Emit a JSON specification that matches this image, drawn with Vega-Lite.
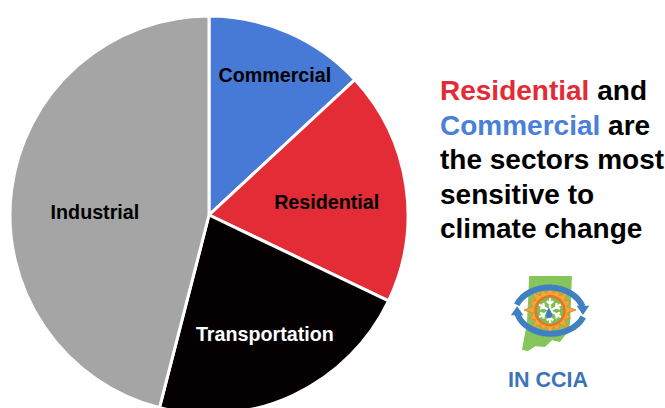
{
  "$schema": "https://vega.github.io/schema/vega-lite/v6.json",
  "background": "white",
  "padding": {"left": 0, "top": 14, "right": 0, "bottom": 0},
  "spacing": 22,
  "config": {"view": {"stroke": null}, "font": "Liberation Sans"},
  "resolve": {"scale": {"color": "independent"}},
  "datasets": {
    "sectors": [
      {"sector": "Commercial", "share": 13.1, "order": 1},
      {"sector": "Residential", "share": 19.0, "order": 2},
      {"sector": "Transportation", "share": 21.9, "order": 3},
      {"sector": "Industrial", "share": 46.0, "order": 4}
    ],
    "lines": [
      {"line": 3, "text": "the sectors most"},
      {"line": 4, "text": "sensitive to"},
      {"line": 5, "text": "climate change"}
    ],
    "tails": [
      {"line": 1, "text": "and"},
      {"line": 2, "text": "are"}
    ],
    "highlights": [
      {"line": 1, "text": "Residential", "sector": "Residential"},
      {"line": 2, "text": "Commercial", "sector": "Commercial"}
    ],
    "logo": [{"name": "IN CCIA"}]
  },
  "hconcat": [
    {
      "width": 418,
      "height": 394,
      "data": {"name": "sectors"},
      "encoding": {
        "theta": {"field": "share", "type": "quantitative", "stack": true},
        "order": {"field": "order", "type": "quantitative"}
      },
      "layer": [
        {
          "mark": {"type": "arc", "radius": 199, "stroke": "white", "strokeWidth": 3, "strokeJoin": "round"},
          "encoding": {
            "color": {
              "field": "sector",
              "type": "nominal",
              "scale": {
                "domain": ["Commercial", "Residential", "Transportation", "Industrial"],
                "range": ["#4779D6", "#E32C35", "#050102", "#A5A5A5"]
              },
              "legend": null
            }
          }
        },
        {
          "mark": {
            "type": "text",
            "font": "Liberation Sans",
            "fontWeight": "bold",
            "fontSize": 19.7,
            "align": "center",
            "baseline": "middle",
            "radius": {"expr": "datum.sector === 'Commercial' ? 152 : datum.sector === 'Residential' ? 118 : datum.sector === 'Transportation' ? 132 : 115"},
            "dx": {"expr": "datum.sector === 'Commercial' ? 5 : datum.sector === 'Residential' ? 1 : 0"},
            "dy": {"expr": "datum.sector === 'Commercial' ? 0 : datum.sector === 'Residential' ? 6 : datum.sector === 'Industrial' ? 12 : 0"}
          },
          "encoding": {
            "text": {"field": "sector"},
            "color": {
              "condition": {"test": "datum.sector === 'Transportation'", "value": "white"},
              "value": "black"
            }
          }
        }
      ]
    },
    {
      "width": 225,
      "height": 394,
      "layer": [
        {
          "data": {"name": "lines"},
          "mark": {"type": "text", "align": "left", "baseline": "alphabetic", "font": "Liberation Sans", "fontWeight": "bold", "fontSize": 28, "fill": "black"},
          "encoding": {
            "x": {"datum": 0, "type": "quantitative", "scale": {"domain": [0, 1], "nice": false, "zero": false}, "axis": null},
            "y": {"field": "line", "type": "quantitative", "scale": {"domain": [-1.37, 10.017], "nice": false, "zero": false, "reverse": true}, "axis": null},
            "text": {"field": "text"}
          }
        },
        {
          "data": {"name": "tails"},
          "mark": {"type": "text", "align": "left", "baseline": "alphabetic", "font": "Liberation Sans", "fontWeight": "bold", "fontSize": 28, "fill": "black",
            "dx": {"expr": "datum.line === 1 ? 157.2 : 168.1"}},
          "encoding": {
            "x": {"datum": 0, "type": "quantitative", "axis": null},
            "y": {"field": "line", "type": "quantitative", "axis": null},
            "text": {"field": "text"}
          }
        },
        {
          "data": {"name": "highlights"},
          "mark": {"type": "text", "align": "left", "baseline": "alphabetic", "font": "Liberation Sans", "fontWeight": "bold", "fontSize": 28},
          "encoding": {
            "x": {"datum": 0, "type": "quantitative", "axis": null},
            "y": {"field": "line", "type": "quantitative", "axis": null},
            "text": {"field": "text"},
            "color": {
              "field": "sector",
              "type": "nominal",
              "scale": {"domain": ["Residential", "Commercial"], "range": ["#E42B35", "#4A80D8"]},
              "legend": null
            }
          }
        },
        {
          "data": {"name": "logo"},
          "mark": {"type": "point", "filled": true, "fill": "#86C55C", "opacity": 1, "strokeWidth": 0, "size": 5625,
            "shape": "M-0.49,-1 L0.65,-1 L0.6,0.28 L0.49,0.55 L0.33,0.76 L0.12,0.71 L-0.07,0.89 L-0.33,0.87 L-0.52,1 L-0.68,0.97 L-0.63,0.68 L-0.55,0.28 Z"},
          "encoding": {
            "x": {"datum": 0.478, "type": "quantitative", "axis": null},
            "y": {"datum": 7.171, "type": "quantitative", "axis": null}
          }
        },
        {
          "data": {"name": "logo"},
          "mark": {"type": "point", "filled": true, "fill": "#F2A838", "stroke": "#E48A2C", "strokeWidth": 1, "opacity": 1, "size": 2700,
            "shape": "M0,-1 L0.129,-0.647 L0.325,-0.785 L0.367,-0.549 L0.707,-0.707 L0.549,-0.367 L0.785,-0.325 L0.647,-0.129 L1,0 L0.647,0.129 L0.785,0.325 L0.549,0.367 L0.707,0.707 L0.367,0.549 L0.325,0.785 L0.129,0.647 L0,1 L-0.129,0.647 L-0.325,0.785 L-0.367,0.549 L-0.707,0.707 L-0.549,0.367 L-0.785,0.325 L-0.647,0.129 L-1,0 L-0.647,-0.129 L-0.785,-0.325 L-0.549,-0.367 L-0.707,-0.707 L-0.367,-0.549 L-0.325,-0.785 L-0.129,-0.647 Z"},
          "encoding": {
            "x": {"datum": 0.489, "type": "quantitative", "axis": null},
            "y": {"datum": 7.069, "type": "quantitative", "axis": null}
          }
        },
        {
          "data": {"name": "logo"},
          "mark": {"type": "point", "filled": false, "fill": null, "stroke": "#3F80C2", "strokeWidth": 6, "opacity": 1, "size": 4900,
            "shape": "M-0.95,-0.15 A1,0.78 0 0 1 0.93,-0.1 M0.95,0.2 A1,0.78 0 0 1 -0.93,0.12"},
          "encoding": {
            "x": {"datum": 0.489, "type": "quantitative", "axis": null},
            "y": {"datum": 7.069, "type": "quantitative", "axis": null}
          }
        },
        {
          "data": {"name": "logo"},
          "mark": {"type": "point", "filled": true, "fill": "#3F80C2", "opacity": 1, "strokeWidth": 0, "size": 4900,
            "shape": "M0.76,-0.12 L1.12,-0.12 L0.94,0.14 Z M-0.76,0.15 L-1.12,0.15 L-0.94,-0.11 Z"},
          "encoding": {
            "x": {"datum": 0.489, "type": "quantitative", "axis": null},
            "y": {"datum": 7.069, "type": "quantitative", "axis": null}
          }
        },
        {
          "data": {"name": "logo"},
          "mark": {"type": "point", "shape": "circle", "filled": true, "fill": "#7DBE4E", "stroke": "#E8732A", "strokeWidth": 2.5, "opacity": 1, "size": 841},
          "encoding": {
            "x": {"datum": 0.489, "type": "quantitative", "axis": null},
            "y": {"datum": 7.09, "type": "quantitative", "axis": null}
          }
        },
        {
          "data": {"name": "logo"},
          "mark": {"type": "point", "filled": false, "fill": null, "stroke": "white", "strokeWidth": 2.2, "opacity": 1, "size": 625,
            "shape": "M0,-1 L0,1 M-0.866,-0.5 L0.866,0.5 M-0.866,0.5 L0.866,-0.5 M-0.268,-0.775 L0,-0.55 L0.268,-0.775 M0.537,-0.62 L0.476,-0.275 L0.805,-0.155 M0.805,0.155 L0.476,0.275 L0.537,0.62 M0.268,0.775 L0,0.55 L-0.268,0.775 M-0.537,0.62 L-0.476,0.275 L-0.805,0.155 M-0.805,-0.155 L-0.476,-0.275 L-0.537,-0.62"},
          "encoding": {
            "x": {"datum": 0.489, "type": "quantitative", "axis": null},
            "y": {"datum": 7.09, "type": "quantitative", "axis": null}
          }
        },
        {
          "data": {"name": "logo"},
          "mark": {"type": "point", "filled": true, "fill": "#3C7CC0", "opacity": 1, "strokeWidth": 0, "size": 121,
            "shape": "M0,-1 C0.3,-0.4 0.6,0 0.6,0.35 A0.6,0.6 0 0 1 -0.6,0.35 C-0.6,0 -0.3,-0.4 0,-1 Z"},
          "encoding": {
            "x": {"datum": 0.484, "type": "quantitative", "axis": null},
            "y": {"datum": 7.156, "type": "quantitative", "axis": null}
          }
        },
        {
          "data": {"name": "logo"},
          "mark": {"type": "text", "align": "center", "baseline": "alphabetic", "font": "Liberation Sans", "fontWeight": "bold", "fontSize": 21.5, "fill": "#3E73B9"},
          "encoding": {
            "x": {"datum": 0.48, "type": "quantitative", "axis": null},
            "y": {"datum": 9.295, "type": "quantitative", "axis": null},
            "text": {"field": "name"}
          }
        }
      ]
    }
  ]
}
